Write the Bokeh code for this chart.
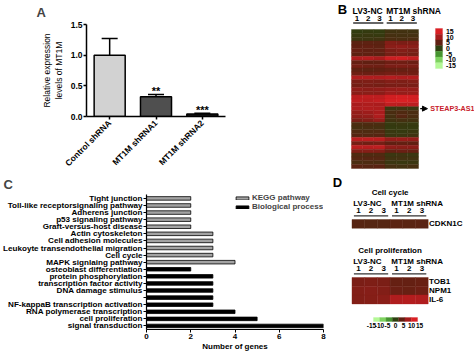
import numpy as np
from bokeh.plotting import figure
from bokeh.layouts import column, row
from bokeh.models import (ColumnDataSource, FactorRange, Range1d, Whisker, TeeHead,
                          LinearColorMapper, FixedTicker, Arrow, NormalHead,
                          Legend, PrintfTickFormatter)
from bokeh.core.properties import value
from bokeh.embed import file_html
from bokeh.resources import INLINE

FONT = "Liberation Sans"

# ---------------- Panel A data ----------------
a_groups = ["Control shRNA", "MT1M shRNA1", "MT1M shRNA2"]
a_values = [1.0, 0.32, 0.04]
a_errors = [0.27, 0.04, 0.012]
a_stars = ["", "**", "***"]
a_colors = ["#d2d2d2", "#4f4f4f", "#1a1a1a"]
a_yticks = [0.0, 0.5, 1.0, 1.5]

# ---------------- Panel B data ----------------
b_groups = ["LV3-NC", "MT1M shRNA"]
b_reps = ["1", "2", "3"]
b_lv3 = [
    [0.5, 0.8, 0.6], [1.0, 1.2, 1.0], [1.5, 1.5, 1.8], [4.5, 4.8, 4.5], [5.0, 5.2, 4.8],
    [5.5, 5.0, 5.2], [4.8, 5.0, 4.6], [11.0, 11.5, 10.5], [5.5, 5.0, 5.2], [6.5, 6.2, 6.0],
    [5.0, 4.8, 5.0], [6.0, 5.8, 6.0], [11.0, 11.2, 11.0], [7.0, 7.2, 7.0], [6.5, 6.8, 6.5],
    [8.5, 8.2, 8.5], [8.0, 8.0, 8.2], [12.0, 12.5, 12.2], [12.5, 12.0, 12.8], [10.5, 10.8, 10.5],
    [11.0, 11.2, 10.8], [9.0, 9.5, 10.5], [8.5, 9.0, 11.0], [7.0, 7.5, 9.0], [3.0, 3.2, 3.0],
    [2.5, 2.8, 2.5], [3.5, 3.2, 3.5], [4.0, 3.8, 4.0], [12.0, 12.2, 12.0], [6.5, 6.2, 6.5],
    [12.0, 11.8, 12.2], [7.5, 7.8, 7.5], [3.5, 3.2, 3.5], [4.0, 4.2, 4.0], [3.0, 3.2, 3.0],
    [4.5, 4.2, 4.5],
]
b_mt1m = [
    [2.0, 2.2, 2.0], [2.5, 2.3, 2.4], [3.0, 2.8, 3.0], [7.5, 7.0, 7.2], [8.0, 8.5, 8.0],
    [7.0, 7.5, 7.0], [6.5, 6.8, 6.5], [13.5, 14.0, 13.0], [6.0, 6.2, 5.8], [7.0, 7.2, 7.0],
    [5.5, 5.5, 5.8], [6.5, 6.5, 6.2], [11.5, 11.0, 11.2], [7.5, 7.2, 7.5], [6.8, 7.0, 6.8],
    [9.0, 9.2, 9.0], [9.5, 9.0, 9.2], [14.0, 14.5, 14.2], [14.5, 14.8, 14.5], [12.5, 12.0, 12.2],
    [1.5, 1.8, 1.5], [3.0, 3.5, 3.0], [2.5, 4.0, 3.0], [2.0, 2.5, 2.2], [1.0, 1.2, 1.0],
    [0.8, 1.0, 0.8], [1.2, 1.0, 1.2], [1.5, 1.5, 1.8], [9.0, 9.2, 9.0], [5.0, 5.2, 5.0],
    [8.5, 8.0, 8.2], [5.5, 5.8, 5.5], [1.5, 1.8, 1.5], [2.0, 2.2, 2.0], [1.5, 1.2, 1.5],
    [2.5, 2.2, 2.5],
]
b_marked_row = 20
b_marked_label = "STEAP3-AS1"
scale_ticks = [15, 10, 5, 0, -5, -10, -15]

# ---------------- Panel C data ----------------
c_terms = ["Tight junction", "Toll-like receptorsignaling pathway", "Adherens junction",
           "p53 signaling pathway", "Graft-versus-host disease", "Actin cytoskeleton",
           "Cell adhesion molecules", "Leukoyte transendothelial migration", "Cell cycle",
           "MAPK signlaing pathway", "osteoblast differentiation", "protein phosphorylation",
           "transcription factor activity", "DNA damage stimulus", "",
           "NF-kappaB transcription activation", "RNA polymerase transcription",
           "cell proliferation", "signal transduction"]
c_counts = [2, 2, 2, 2, 2, 3, 3, 3, 3, 4, 2, 3, 3, 3, 3, 3, 4, 5, 8]
c_types = ["KEGG pathway"] * 10 + ["Biological process"] * 9
c_xticks = [0, 2, 4, 6, 8]

# ---------------- Panel D data ----------------
d_cc_genes = ["CDKN1C"]
d_cc_values = [[4.2, 4.0, 4.1, 4.5, 4.4, 4.5]]
d_pr_genes = ["TOB1", "NPM1", "IL-6"]
d_pr_values = [[7.0, 7.2, 7.0, 5.5, 5.3, 5.6],
               [7.6, 7.8, 7.4, 5.8, 5.6, 5.9],
               [7.4, 7.7, 8.0, 11.0, 11.3, 11.1]]

# ---------------- colour map ----------------
anchors = [(-15, (180, 248, 150)), (-10, (125, 210, 95)), (-5, (70, 148, 48)),
           (0, (44, 64, 16)), (5, (96, 32, 18)), (10, (164, 28, 28)), (15, (218, 32, 36))]


def col_at(v):
    for (v0, c0), (v1, c1) in zip(anchors[:-1], anchors[1:]):
        if v0 <= v <= v1:
            t = (v - v0) / (v1 - v0)
            return "#%02x%02x%02x" % tuple(int(round(a + (b - a) * t)) for a, b in zip(c0, c1))
    return "#000000"


palette = [col_at(v) for v in np.linspace(-15, 15, 256)]
mapper = LinearColorMapper(palette=palette, low=-15, high=15)


def style_axis(ax, size="8px", lw=1.5):
    ax.axis_line_width = lw
    ax.axis_line_color = "black"
    ax.major_tick_line_width = lw
    ax.major_tick_line_color = "black"
    ax.major_tick_out = 3
    ax.major_tick_in = 0
    ax.minor_tick_line_color = None
    ax.major_label_text_font = FONT
    ax.major_label_text_font_style = "bold"
    ax.major_label_text_font_size = size
    ax.major_label_text_color = "black"
    ax.axis_label_text_font = FONT
    ax.axis_label_text_font_style = "bold"
    ax.axis_label_text_font_size = size
    ax.axis_label_text_color = "black"


def txt(p, x, y, t, size="8px", align="left", color="black", baseline="middle"):
    p.text(x=x, y=y, text=t, text_font=value(FONT), text_font_style="bold",
           text_font_size=size, text_align=align, text_baseline=baseline, text_color=color)


def heat(p, rows, row0, rowh=1.0):
    xs, ys, vs = [], [], []
    for r, vals in enumerate(rows):
        for c, v in enumerate(vals):
            xs.append(c + 0.5)
            ys.append(row0 + (r + 0.5) * rowh)
            vs.append(v)
    src = ColumnDataSource(dict(x=xs, y=ys, v=vs))
    p.rect(x="x", y="y", width=1, height=rowh, source=src,
           fill_color={"field": "v", "transform": mapper},
           line_color={"field": "v", "transform": mapper}, line_width=0.4)


def header(p, y_group, y_rep, y_line, gsize, rsize):
    n = len(b_reps)
    for gi, g in enumerate(b_groups):
        x0 = gi * n
        txt(p, [x0 + 0.1], [y_group], [g], size=gsize)
        txt(p, [x0 + i + 0.5 for i in range(n)], [y_rep] * n, b_reps, size=rsize, align="center")
        p.segment(x0=[x0 + 0.15], x1=[x0 + n - 0.15], y0=[y_line], y1=[y_line],
                  line_color="#333333", line_width=1.3)


def scale_bar(p, x0, y0, bw, bh, vertical, lab_gap, lab_size, lab_spread=1.0):
    """Colour key: one block per tick value of scale_ticks (15 ... -15)."""
    ticks = scale_ticks if vertical else sorted(scale_ticks)
    n = len(ticks)
    if vertical:
        xs = [x0 + bw / 2] * n
        ys = [y0 + (i + 0.5) * bh for i in range(n)]
        lx = [x0 + bw + lab_gap] * n
        ly = ys
        align = "left"
    else:
        xs = [x0 + (i + 0.5) * bw for i in range(n)]
        ys = [y0 + bh / 2] * n
        mid = x0 + n * bw / 2
        lx = [mid + (x - mid) * lab_spread for x in xs]
        ly = [y0 + bh + lab_gap] * n
        align = "center"
    src = ColumnDataSource(dict(x=xs, y=ys, v=ticks))
    p.rect(x="x", y="y", width=bw, height=bh, source=src,
           fill_color={"field": "v", "transform": mapper},
           line_color={"field": "v", "transform": mapper}, line_width=0.3)
    txt(p, lx, ly, [str(t) for t in ticks], size=lab_size, align=align)


def bare(p):
    p.grid.visible = False
    p.outline_line_color = None


def panel_letter(p, letter, offset, standoff):
    p.title.text = letter
    p.title.align = "left"
    p.title.vertical_align = "top"
    p.title.offset = offset
    p.title.standoff = standoff
    p.title.text_font = FONT
    p.title.text_font_style = "bold"
    p.title.text_font_size = "13px"


# ================= Panel A =================
pA = figure(width=235, height=175, x_range=FactorRange(*a_groups), y_range=Range1d(0, 1.5),
            output_backend="svg", toolbar_location=None,
            min_border_left=86, min_border_right=10, min_border_top=24, min_border_bottom=59)
bare(pA)
panel_letter(pA, "A", -50, 6)
srcA = ColumnDataSource(dict(x=a_groups, top=a_values, lower=a_values,
                             upper=[v + e for v, e in zip(a_values, a_errors)],
                             color=a_colors, stars=a_stars))
pA.vbar(x="x", top="top", width=0.67, fill_color="color", line_color="black",
        line_width=1.5, source=srcA)
pA.add_layout(Whisker(source=srcA, base="x", upper="upper", lower="lower", dimension="height",
                      line_width=1.5, line_color="black",
                      upper_head=TeeHead(size=16, line_width=1.5, line_color="black"),
                      lower_head=None))
pA.text(x="x", y="upper", text="stars", source=srcA, text_font=value(FONT),
        text_font_style="bold", text_font_size="11px", text_align="center",
        text_baseline="bottom", y_offset=3)
style_axis(pA.yaxis, "8.5px")
style_axis(pA.xaxis, "8.5px")
pA.yaxis.ticker = FixedTicker(ticks=a_yticks)
pA.yaxis.formatter = PrintfTickFormatter(format="%.1f")
pA.yaxis.major_label_standoff = 1
pA.yaxis.axis_label = "Relative expression\nlevels of MT1M"
pA.yaxis.axis_label_text_font_style = "normal"
pA.yaxis.axis_label_standoff = 4
pA.xaxis.major_label_orientation = np.pi / 4
pA.xaxis.major_label_standoff = 2

# ================= Panel B =================
bx = 11.17
by = 3.86
pB = figure(width=239, height=175, output_backend="svg", toolbar_location=None, title=None,
            x_range=Range1d(-116 / bx, (239 - 116) / bx),
            y_range=Range1d((175 - 29) / by, -29 / by),
            x_axis_location=None, y_axis_location=None, min_border=0)
bare(pB)
heat(pB, [l + r for l, r in zip(b_lv3, b_mt1m)], 0)
header(pB, -4.9, -2.85, -1.68, "8.5px", "8px")
txt(pB, [-0.8], [-5.3], ["B"], size="13px", align="center")
pB.add_layout(Arrow(x_start=6.15, x_end=6.8, y_start=b_marked_row + 0.5, y_end=b_marked_row + 0.5,
                    line_width=1.2, line_color="black",
                    end=NormalHead(size=5, fill_color="black", line_color="black")))
txt(pB, [7.05], [b_marked_row + 0.5], [b_marked_label], size="7.2px", color="#c8202a")
scale_bar(pB, 7.52, -0.26, 0.63, 1.48, True, 0.3, "7px")

# ================= Panel C =================
nC = len(c_terms)
c_y = [nC - 1 - i for i in range(nC)]
pC = figure(width=330, height=178, output_backend="svg", toolbar_location=None,
            x_range=Range1d(0, 8), y_range=Range1d(-0.5, nC - 0.45),
            min_border_left=144, min_border_right=7, min_border_top=18, min_border_bottom=20)
bare(pC)
panel_letter(pC, "C", -143, 2)
renderers = []
for t, fill in [("KEGG pathway", "#a3a3a3"), ("Biological process", "#000000")]:
    idx = [i for i in range(nC) if c_types[i] == t]
    src = ColumnDataSource(dict(y=[c_y[i] for i in idx], right=[c_counts[i] for i in idx]))
    renderers.append((t, pC.hbar(y="y", right="right", left=0, height=0.5, source=src,
                                 fill_color=fill, line_color="black", line_width=0.8)))
style_axis(pC.yaxis, "8.1px", 1.2)
style_axis(pC.xaxis, "8px", 1.2)
pC.yaxis.ticker = FixedTicker(ticks=c_y)
pC.yaxis.major_label_overrides = {c_y[i]: c_terms[i] for i in range(nC)}
pC.yaxis.major_label_standoff = 1
pC.yaxis.major_tick_line_width = 1
pC.xaxis.major_tick_line_width = 1
pC.xaxis.ticker = FixedTicker(ticks=c_xticks)
pC.xaxis.major_label_standoff = 1
pC.xaxis.axis_label = "Number of genes"
pC.xaxis.axis_label_standoff = 0
legC = Legend(items=[(t, [r]) for t, r in renderers], location=(88, 118),
              glyph_width=16, glyph_height=4, label_height=8, spacing=0, padding=0,
              margin=0, label_standoff=2, border_line_color=None, background_fill_alpha=0,
              label_text_font=FONT, label_text_font_style="bold", label_text_font_size="8px")
pC.add_layout(legC)

# ================= Panel D =================
dx = 12.7
dy = 8.8
pD = figure(width=144, height=178, output_backend="svg", toolbar_location=None, title=None,
            x_range=Range1d(-21.5 / dx, (144 - 21.5) / dx),
            y_range=Range1d((178 - 44) / dy, -44 / dy),
            x_axis_location=None, y_axis_location=None, min_border=0)
bare(pD)
cc_top = 0.0
pr_top = 6.59
heat(pD, d_cc_values, cc_top)
heat(pD, d_pr_values, pr_top)
for top, title in [(cc_top, "Cell cycle"), (pr_top, "Cell proliferation")]:
    txt(pD, [3.0], [top - 3.07], [title], size="8px", align="center")
    header(pD, top - 1.78, top - 1.05, top - 0.42, "8px", "8px")
txt(pD, [6.07] * len(d_cc_genes), [cc_top + 0.5 + i for i in range(len(d_cc_genes))], d_cc_genes, size="8px")
txt(pD, [6.07] * len(d_pr_genes), [pr_top + 0.5 + i for i in range(len(d_pr_genes))], d_pr_genes, size="8px")
txt(pD, [-1.14], [-4.2], ["D"], size="13px", align="center")
scale_bar(pD, 1.69, 11.14, 0.496, 0.45, False, 0.5, "6.5px", lab_spread=1.27)

# nest each plot in its own column so that row() does not align plot frames
layout = column(row(column(pA), column(pB)), row(column(pC), column(pD)))
open("out.html", "w").write(file_html(layout, INLINE))
